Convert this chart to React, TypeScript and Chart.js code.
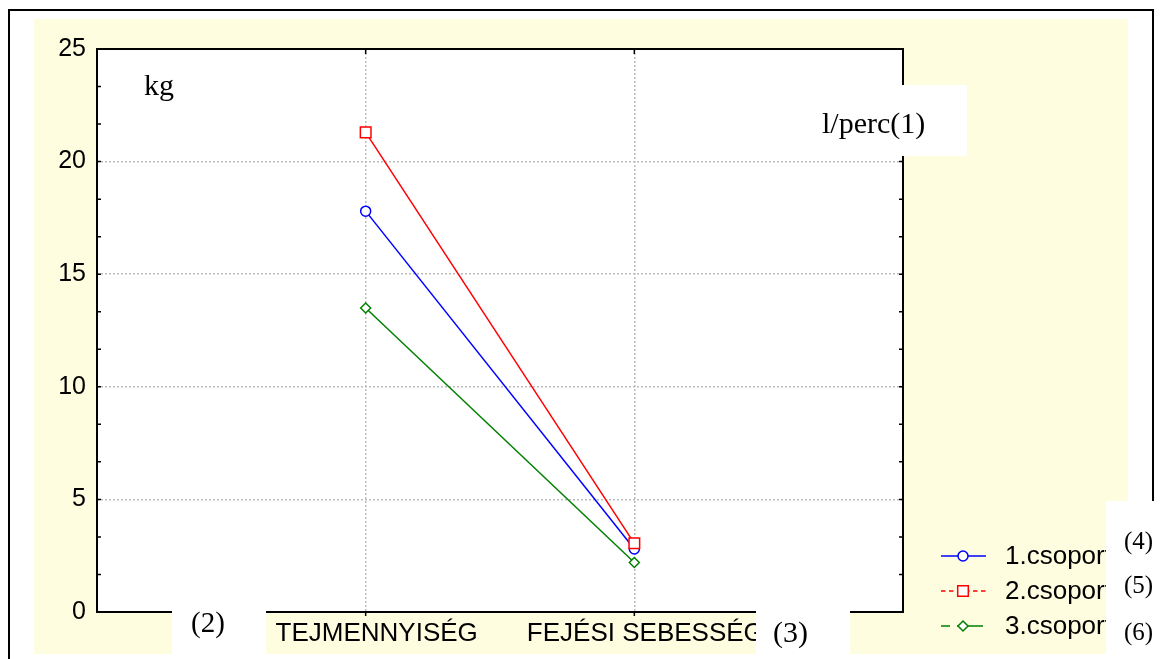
import React, { useEffect, useRef } from 'react';
import { Chart, registerables } from 'chart.js';

Chart.register(...registerables);

// ---- data ----
const categories = ['', 'TEJMENNYISÉG', 'FEJÉSI SEBESSÉG', ''];
const seriesNames = ['1.csoport', '2.csoport', '3.csoport'];
const group1 = [null, 17.8, 2.8, null];
const group2 = [null, 21.3, 3.05, null];
const group3 = [null, 13.5, 2.2, null];
const yTickValues = [0, 5, 10, 15, 20, 25];
const unitLeftLabel = 'kg';
const unitRightLabel = 'l/perc(1)';
const xNoteLabels = ['(2)', '(3)'];
const legendNoteLabels = ['(4)', '(5)', '(6)'];

const SANS = '"Liberation Sans", Arial, sans-serif';
const SERIF = '"Liberation Serif", "Times New Roman", serif';

function drawMarker(ctx: CanvasRenderingContext2D, style: string, x: number, y: number, r: number) {
  ctx.beginPath();
  if (style === 'circle') {
    ctx.arc(x, y, r, 0, Math.PI * 2);
  } else if (style === 'rect') {
    const s = Math.SQRT1_2 * r;
    ctx.rect(x - s, y - s, 2 * s, 2 * s);
  } else {
    ctx.moveTo(x, y - r);
    ctx.lineTo(x + r, y);
    ctx.lineTo(x, y + r);
    ctx.lineTo(x - r, y);
    ctx.closePath();
  }
  ctx.fill();
  ctx.stroke();
}

const decorPlugin = {
  id: 'decor',
  beforeDraw(chart: any) {
    const ctx = chart.ctx as CanvasRenderingContext2D;
    const { width, height } = chart;
    const a = chart.chartArea;
    ctx.save();
    ctx.fillStyle = '#ffffff';
    ctx.fillRect(0, 0, width, height);
    ctx.fillStyle = '#FFFDE0';
    ctx.fillRect(34, 19, 1128 - 34, 654 - 19);
    ctx.fillStyle = '#ffffff';
    ctx.fillRect(a.left, a.top, a.right - a.left, a.bottom - a.top);
    ctx.strokeStyle = '#000';
    ctx.lineWidth = 2;
    ctx.beginPath();
    ctx.moveTo(9, height + 5);
    ctx.lineTo(9, 10);
    ctx.lineTo(1153, 10);
    ctx.lineTo(1153, height + 5);
    ctx.stroke();
    ctx.restore();
  },
  afterDraw(chart: any) {
    const ctx = chart.ctx as CanvasRenderingContext2D;
    const a = chart.chartArea;
    const xs = chart.scales.x;
    const ys = chart.scales.y;
    ctx.save();
    // plot frame
    ctx.strokeStyle = '#000';
    ctx.lineWidth = 2;
    ctx.strokeRect(a.left, a.top, a.right - a.left, a.bottom - a.top);
    // inward ticks on y axes (major + minor)
    ctx.lineWidth = 1.5;
    ctx.beginPath();
    const maxV = yTickValues[yTickValues.length - 1];
    const minorStep = (yTickValues[1] - yTickValues[0]) / 3;
    for (let k = 0; k * minorStep <= maxV + 1e-6; k++) {
      const py = ys.getPixelForValue(k * minorStep);
      ctx.moveTo(a.left, py);
      ctx.lineTo(a.left + 4, py);
      ctx.moveTo(a.right - 4, py);
      ctx.lineTo(a.right, py);
    }
    for (let i = 1; i < categories.length - 1; i++) {
      const px = xs.getPixelForValue(i);
      ctx.moveTo(px, a.top);
      ctx.lineTo(px, a.top + 5);
      ctx.moveTo(px, a.bottom);
      ctx.lineTo(px, a.bottom + 4);
    }
    ctx.stroke();

    // legend
    const ds = chart.data.datasets;
    const legendY = [556, 591, 626];
    ds.forEach((d: any, i: number) => {
      const y = legendY[i];
      ctx.strokeStyle = d.borderColor;
      ctx.lineWidth = 1.5;
      ctx.beginPath();
      if (i === 0) {
        ctx.moveTo(941, y);
        ctx.lineTo(986, y);
        ctx.stroke();
      } else if (i === 1) {
        ctx.setLineDash([4.5, 3.5]);
        ctx.moveTo(941, y);
        ctx.lineTo(986, y);
        ctx.stroke();
        ctx.setLineDash([]);
      } else {
        ctx.moveTo(941, y);
        ctx.lineTo(950, y);
        ctx.moveTo(957, y);
        ctx.lineTo(983, y);
        ctx.stroke();
      }
      ctx.fillStyle = '#fff';
      ctx.lineWidth = 1.5;
      drawMarker(ctx, d.pointStyle, 963, y, d.pointRadius);
      ctx.fillStyle = '#000';
      ctx.font = `26px ${SANS}`;
      ctx.textAlign = 'left';
      ctx.textBaseline = 'middle';
      ctx.fillText(d.label, 1005, y + 1);
    });

    // white annotation boxes
    ctx.fillStyle = '#ffffff';
    ctx.fillRect(810, 85, 157, 71);
    ctx.fillRect(172, 610, 94, 49);
    ctx.fillRect(756, 610, 94, 49);
    ctx.fillRect(1106, 501, 55, 158);

    // annotation texts
    ctx.fillStyle = '#000';
    ctx.textAlign = 'left';
    ctx.textBaseline = 'alphabetic';
    ctx.font = `30px ${SERIF}`;
    ctx.fillText(unitLeftLabel, 144, 95);
    ctx.fillText(unitRightLabel, 822, 133);
    ctx.textBaseline = 'middle';
    ctx.font = `29px ${SERIF}`;
    ctx.fillText(xNoteLabels[0], 191, 624);
    ctx.font = `30px ${SERIF}`;
    ctx.fillText(xNoteLabels[1], 773, 634);
    ctx.font = `25px ${SERIF}`;
    const noteY = [542, 586, 633];
    legendNoteLabels.forEach((t, i) => ctx.fillText(t, 1124, noteY[i]));
    ctx.restore();
  },
};

export default function App() {
  const ref = useRef<HTMLCanvasElement | null>(null);
  useEffect(() => {
    document.body.style.margin = '0';
    const canvas = ref.current;
    if (!canvas) return;
    const chart = new Chart(canvas, {
      type: 'line',
      data: {
        labels: categories,
        datasets: [
          {
            label: seriesNames[0],
            data: group1,
            borderColor: '#0000ff',
            backgroundColor: '#ffffff',
            pointStyle: 'circle',
            pointRadius: 5,
            pointBorderWidth: 1.5,
            borderWidth: 1.5,
            order: 1,
          },
          {
            label: seriesNames[1],
            data: group2,
            borderColor: '#ff0000',
            backgroundColor: '#ffffff',
            pointStyle: 'rect',
            pointRadius: 7.5,
            pointBorderWidth: 1.5,
            borderWidth: 1.5,
            order: 0,
          },
          {
            label: seriesNames[2],
            data: group3,
            borderColor: '#008000',
            backgroundColor: '#ffffff',
            pointStyle: 'rectRot',
            pointRadius: 5,
            pointBorderWidth: 1.5,
            borderWidth: 1.5,
            order: 2,
          },
        ] as any,
      },
      options: {
        responsive: false,
        animation: false,
        layout: { padding: { top: 49, right: 258, bottom: 0, left: 0 } },
        plugins: {
          legend: { display: false },
          tooltip: { enabled: false },
          title: { display: false },
        },
        scales: {
          x: {
            type: 'category',
            offset: false,
            border: { display: false, dash: [2, 2] },
            grid: {
              color: '#bcbcbc',
              lineWidth: 1.5,
              drawTicks: false,
            },
            ticks: {
              autoSkip: false,
              maxRotation: 0,
              color: '#000',
              padding: 6,
              labelOffset: 11,
              font: { family: SANS, size: 26 },
            },
            afterFit: (s: any) => {
              s.height = 47;
            },
          },
          y: {
            min: 0,
            max: 25,
            border: { display: false, dash: [2, 2] },
            grid: {
              color: '#bcbcbc',
              lineWidth: 1.5,
              drawTicks: false,
            },
            ticks: {
              stepSize: 5,
              color: '#000',
              padding: 11,
              font: { family: SANS, size: 25 },
            },
            afterBuildTicks: (s: any) => {
              s.ticks = yTickValues.map((v) => ({ value: v }));
            },
            afterFit: (s: any) => {
              s.width = 97;
            },
          },
        },
      } as any,
      plugins: [decorPlugin],
    });
    return () => chart.destroy();
  }, []);
  return (
    <div style={{ width: 1161, height: 659 }}>
      <canvas ref={ref} width={1161} height={659} style={{ display: 'block' }} />
    </div>
  );
}
